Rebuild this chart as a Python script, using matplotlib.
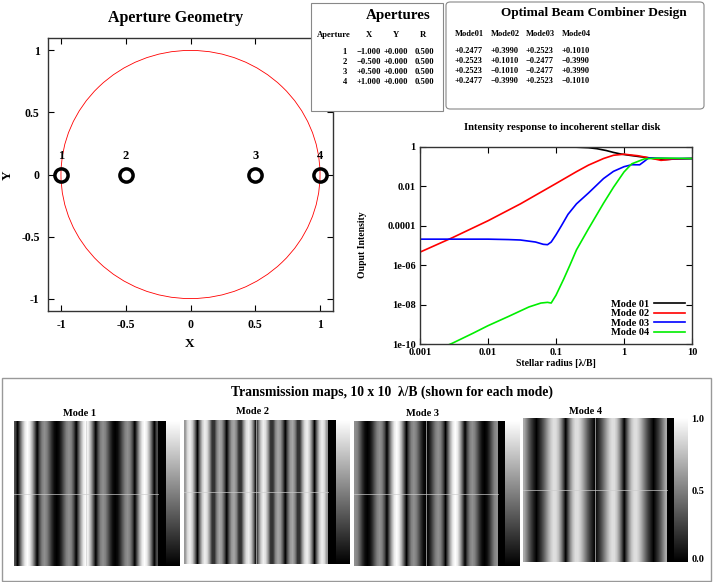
import numpy as np
import matplotlib
matplotlib.use("Agg")
import matplotlib.pyplot as plt
from matplotlib.patches import Rectangle, FancyBboxPatch, Circle

plt.rcParams["font.family"] = ["Liberation Serif", "DejaVu Serif"]
plt.rcParams["font.weight"] = "bold"
plt.rcParams["axes.unicode_minus"] = False

W, H = 713, 582

# aperture table
AP_ID = [1, 2, 3, 4]
AP_X = [-1.0, -0.5, 0.5, 1.0]
AP_Y = [0.0, 0.0, 0.0, 0.0]
AP_R = [0.5, 0.5, 0.5, 0.5]

# beam combiner coefficients (one list per mode, one value per aperture)
MODE_NAMES = ["Mode01", "Mode02", "Mode03", "Mode04"]
MODE01 = [0.2477, 0.2523, 0.2523, 0.2477]
MODE02 = [0.3990, 0.1010, -0.1010, -0.3990]
MODE03 = [0.2523, -0.2477, -0.2477, 0.2523]
MODE04 = [0.1010, -0.3990, 0.3990, -0.1010]

# intensity response vs stellar radius
R1_X = [0.001, 0.01, 0.1, 0.2, 0.3, 0.4, 0.55, 0.7, 0.9, 1.2, 2.0, 3.0, 4.0, 6.0, 10.0]
R1_Y = [1.0, 1.0, 1.0, 0.98, 0.92, 0.82, 0.66, 0.53, 0.44, 0.38, 0.30, 0.25, 0.23, 0.25, 0.26]
R2_X = [0.001, 0.003, 0.01, 0.03, 0.1, 0.2, 0.3, 0.5, 0.7, 1.0, 1.6, 2.5, 3.5, 5.0, 10.0]
R2_Y = [4.6e-6, 2.5e-5, 1.8e-4, 1.3e-3, 0.014, 0.056, 0.12, 0.26, 0.38, 0.43, 0.36, 0.27, 0.21, 0.24, 0.26]
R3_X = [0.001, 0.003, 0.01, 0.02, 0.03, 0.05, 0.065, 0.075, 0.085, 0.1, 0.12, 0.15, 0.2, 0.3, 0.5,
        0.7, 1.0, 1.3, 1.7, 2.0, 2.3, 3.5, 5.0, 10.0]
R3_Y = [2.1e-5, 2.1e-5, 2.1e-5, 2.0e-5, 1.9e-5, 1.5e-5, 1.15e-5, 1.1e-5, 1.5e-5, 3.5e-5, 1.0e-4,
        3.8e-4, 1.3e-3, 4.6e-3, 0.025, 0.058, 0.10, 0.126, 0.125, 0.19, 0.28, 0.27, 0.26, 0.26]
R4_X = [0.002, 0.003, 0.006, 0.01, 0.02, 0.04, 0.06, 0.075, 0.085, 0.1, 0.13, 0.16, 0.2, 0.3,
        0.5, 0.7, 1.0, 1.3, 2.0, 3.0, 5.0, 10.0]
R4_Y = [6e-11, 1.1e-10, 3.5e-10, 8.5e-10, 2.5e-9, 7.6e-9, 1.2e-8, 1.3e-8, 1.2e-8, 3e-8, 2e-7,
        1e-6, 6e-6, 7e-5, 1.4e-3, 9e-3, 0.054, 0.14, 0.25, 0.27, 0.27, 0.26]

# transmission profiles, centre -> edge, sampled every 1/12 lambda/B
TM1 = [1, .916, .683, .354, 0, .304, .5, .563, .5, .354, .183, .05, 0, .05, .183,
       .354, .5, .563, .5, .304, 0, .354, .683, .916, 1, .916, .683, .354, 0, .304]
TM2 = [0, .451, .792, .941, .866, .594, .202, .204, .516, .655, .590, .347, 0, .347, .590,
       .655, .516, .204, .202, .594, .866, .941, .792, .451, 0, .451, .792, .941, .866, .594]
TM3 = [0, .05, .183, .354, .5, .563, .5, .304, 0, .354, .683, .916, 1, .916, .683,
       .354, 0, .304, .5, .563, .5, .354, .183, .05, 0, .05, .183, .354, .5, .563]
TM4 = [0, .106, .224, .362, .516, .670, .798, .872, .866, .766, .574, .308, 0, .308, .574,
       .766, .866, .872, .798, .670, .516, .362, .224, .106, 0, .106, .224, .362, .516, .670]

fig = plt.figure(figsize=(W / 100, H / 100), dpi=100)


def px_box(x0, y0, x1, y1):
    return [x0 / W, 1 - y1 / H, (x1 - x0) / W, (y1 - y0) / H]


def ftext(x, y, s, **kw):
    kw.setdefault("ha", "center")
    kw.setdefault("va", "center")
    return fig.text(x / W, 1 - y / H, s, **kw)


def gp_axes(ax):
    for sp in ax.spines.values():
        sp.set_color("#333333")
        sp.set_linewidth(1.0)
    ax.tick_params(direction="in", top=True, right=True, length=4, width=0.8, colors="black")


def signed(v, nd):
    return f"{v:+.{nd}f}".replace("-", "\u2212")


# ---- aperture geometry ----
ax = fig.add_axes(px_box(48, 38, 333, 311))
ax.add_patch(Circle((0, 0), 1.0, fill=False, ec="red", lw=0.6))
ax.plot(AP_X, AP_Y, ls="none", marker="o", ms=9.5, mfc="none", mec="black", mew=2.5)
for i, x, y in zip(AP_ID, AP_X, AP_Y):
    ax.text(x, y + 0.15, str(i), ha="center", va="center", fontsize=9)
ax.set_xlim(-1.1, 1.1)
ax.set_ylim(-1.1, 1.1)
ax.set_xticks([-1, -0.5, 0, 0.5, 1])
ax.set_yticks([-1, -0.5, 0, 0.5, 1])
ax.set_xticklabels(["-1", "-0.5", "0", "0.5", "1"])
ax.set_yticklabels(["-1", "-0.5", "0", "0.5", "1"])
ax.tick_params(labelsize=8.5, pad=6)
gp_axes(ax)
ftext(176, 18, "Aperture Geometry", fontsize=11.5)
ftext(190, 344, "X", fontsize=9.5)
ftext(8, 175, "Y", fontsize=9.5, rotation=90)

# ---- apertures table ----
fig.patches.append(Rectangle((311 / W, 1 - 111 / H), 132 / W, 108 / H, transform=fig.transFigure,
                             fc="white", ec="#888888", lw=0.8, zorder=5))
ftext(398, 16, "Apertures", fontsize=10.8, zorder=6)
ftext(334, 35, "Aperture", fontsize=6.2, zorder=6)
ftext(369, 35, "X", fontsize=6.2, zorder=6)
ftext(396, 35, "Y", fontsize=6.2, zorder=6)
ftext(423, 35, "R", fontsize=6.2, zorder=6)
for k in range(len(AP_ID)):
    yy = 52 + 10 * k
    ftext(347, yy, str(AP_ID[k]), fontsize=6.2, ha="right", zorder=6)
    ftext(369, yy, signed(AP_X[k], 3), fontsize=6.2, zorder=6)
    ftext(396, yy, signed(AP_Y[k], 3), fontsize=6.2, zorder=6)
    ftext(424, yy, f"{AP_R[k]:.3f}", fontsize=6.2, zorder=6)

# ---- beam combiner table ----
fig.patches.append(FancyBboxPatch((446 / W, 1 - 109 / H), 258 / W, 107 / H,
                                  boxstyle="round,pad=0,rounding_size=0.006",
                                  transform=fig.transFigure, fc="white", ec="#888888", lw=0.8, zorder=5))
ftext(594, 13, "Optimal Beam Combiner Design", fontsize=9.5, zorder=6)
cols = [MODE01, MODE02, MODE03, MODE04]
col_x = [455, 491, 526, 562]
for j, name in enumerate(MODE_NAMES):
    ftext(col_x[j], 34, name, fontsize=6, ha="left", zorder=6)
    for k, v in enumerate(cols[j]):
        ftext(col_x[j], 51 + 10 * k, signed(v, 4), fontsize=6, ha="left", zorder=6)

# ---- intensity response ----
ax2 = fig.add_axes(px_box(420, 147, 692, 344))
ax2.plot(R1_X, R1_Y, color="black", lw=1.2, label="Mode 01")
ax2.plot(R2_X, R2_Y, color="red", lw=1.2, label="Mode 02")
ax2.plot(R3_X, R3_Y, color="blue", lw=1.2, label="Mode 03")
ax2.plot(R4_X, R4_Y, color="#00ee00", lw=1.2, label="Mode 04")
ax2.set_xscale("log")
ax2.set_yscale("log")
ax2.set_xlim(0.001, 10)
ax2.set_ylim(1e-10, 1)
ax2.set_xticks([0.001, 0.01, 0.1, 1, 10])
ax2.set_xticklabels(["0.001", "0.01", "0.1", "1", "10"])
ax2.set_yticks([1e-10, 1e-8, 1e-6, 1e-4, 1e-2, 1])
ax2.set_yticklabels(["1e-10", "1e-08", "1e-06", "0.0001", "0.01", "1"])
ax2.minorticks_off()
ax2.tick_params(labelsize=7.5, pad=3)
gp_axes(ax2)
ax2.legend(loc="lower right", frameon=False, markerfirst=False, fontsize=7.5, handlelength=3.0,
           labelspacing=0.02, borderaxespad=0.25, handletextpad=0.5)
ftext(562, 127, "Intensity response to incoherent stellar disk", fontsize=7.7)
ftext(556, 364, "Stellar radius [\u03bb/B]", fontsize=7)
ftext(362, 245, "Ouput Intensity", fontsize=7, rotation=90)

# ---- transmission maps ----
fig.patches.append(Rectangle((2 / W, 1 - 581 / H), 709 / W, 203 / H, transform=fig.transFigure,
                             fc="none", ec="#999999", lw=1.0))
ftext(392, 392, "Transmission maps, 10 x 10  \u03bb/B (shown for each mode)", fontsize=9.8)

maps = [TM1, TM2, TM3, TM4]
# stripe left/right, black strip right, gradient right, top, bottom (pixels)
panels = [(14, 158, 166, 180, 421, 566),
          (184, 328, 336, 350, 420, 564),
          (354, 498, 505, 520, 421, 566),
          (523, 667, 674, 688, 418, 562)]
titles = ["Mode 1", "Mode 2", "Mode 3", "Mode 4"]
title_pos = [(80, 413), (252, 412), (422, 413), (586, 411)]
ramp = np.linspace(1, 0, 256)[:, None]
for prof, (s0, s1, b1, g1, t, b), ttl, (tx, ty) in zip(maps, panels, titles, title_pos):
    row = np.concatenate([prof[:0:-1], prof])
    img = np.tile(row, (2, 1))
    axm = fig.add_axes(px_box(s0, t, g1, b))
    sw = s1 - s0
    hh = b - t
    axm.imshow(img, extent=[0, sw, 0, hh], aspect="auto", cmap="gray", vmin=0, vmax=1,
               interpolation="bilinear")
    axm.add_patch(Rectangle((sw, 0), b1 - s1, hh, fc="black", ec="none"))
    axm.imshow(ramp, extent=[b1 - s0, g1 - s0, 0, hh], aspect="auto", cmap="gray", vmin=0, vmax=1)
    axm.plot([0, sw], [hh / 2, hh / 2], color="#cccccc", lw=0.6, alpha=0.8)
    axm.plot([sw / 2, sw / 2], [0, hh], color="#cccccc", lw=0.6, alpha=0.8)
    axm.set_xlim(0, g1 - s0)
    axm.set_ylim(0, hh)
    axm.axis("off")
    ftext(tx, ty, ttl, fontsize=7.5)

ftext(698, 420, "1.0", fontsize=7.5)
ftext(698, 492, "0.5", fontsize=7.5)
ftext(698, 559, "0.0", fontsize=7.5)

fig.savefig("out.png", dpi=100)
